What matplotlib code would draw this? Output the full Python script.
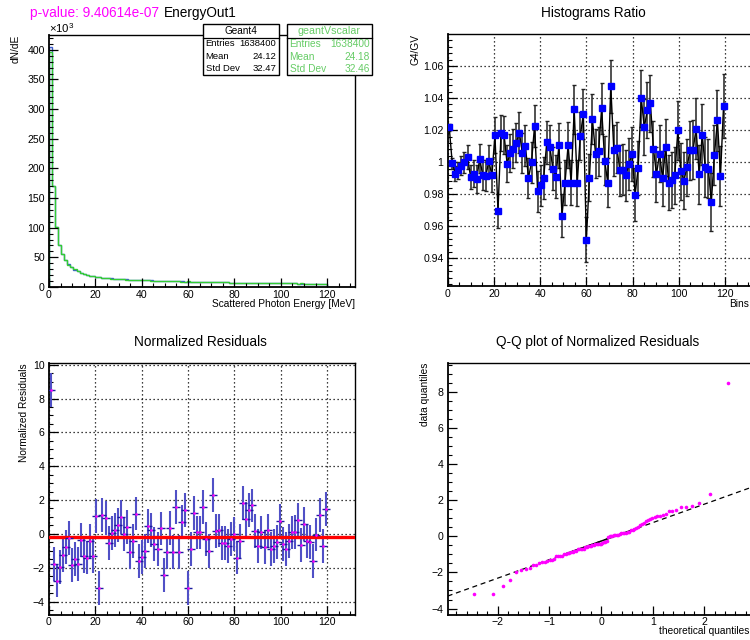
import statistics
import numpy as np
import matplotlib
matplotlib.use("Agg")
import matplotlib.pyplot as plt
from matplotlib.ticker import MultipleLocator, FormatStrFormatter
from matplotlib.patches import Rectangle
from matplotlib.lines import Line2D

plt.rcParams["font.family"] = ["Liberation Sans", "DejaVu Sans"]
plt.rcParams["mathtext.fontset"] = "custom"
plt.rcParams["mathtext.rm"] = "Liberation Sans"
plt.rcParams["axes.unicode_minus"] = True

# ----------------------------------------------------------
# Data
# ----------------------------------------------------------
energy_range = (0, 120)

# Geant4 histogram, counts per bin in units of 10^3
g4_counts = [
    405, 171, 101, 71, 55, 45, 38, 33, 29.5, 26.5, 24, 22, 20.5, 19.2, 18.2,
    17.3, 16.6, 16.0, 15.4, 14.9, 14.4, 14.0, 13.6, 13.3, 13.0, 12.7, 12.4, 12.2, 12.0, 11.8,
    11.6, 11.4, 11.2, 11.0, 10.8, 10.6, 10.4, 10.2, 10.0, 9.9, 9.7, 9.6, 9.4, 9.3, 9.1,
    9.0, 8.9, 8.8, 8.7, 8.6, 8.5, 8.4, 8.3, 8.2, 8.1, 8.0, 7.9, 7.8, 7.7, 7.5,
    7.3, 7.2, 7.1, 7.0, 6.9, 6.9, 6.8, 6.7, 6.7, 6.6, 6.5, 6.5, 6.4, 6.3, 6.3,
    6.2, 6.2, 6.1, 6.1, 6.0, 6.0, 5.9, 5.9, 5.8, 5.8, 5.8, 5.7, 5.7, 5.7, 5.6, 5.6,
]

# G4 / GV ratio per bin
ratio = [
    1.0217, 0.9992, 0.9929, 0.9950, 0.9977, 0.9998, 1.0033, 0.9908, 0.9929, 0.9896,
    1.0021, 0.9919, 0.9915, 1.0006, 0.9917, 1.0169, 0.9696, 1.0183, 1.0169, 0.9990,
    1.0058, 1.0085, 1.0121, 1.0185, 1.0056, 1.0102, 0.9900, 1.0000, 1.0227, 0.9819,
    0.9856, 0.9904, 1.0123, 1.0096, 0.9960, 0.9910, 1.0106, 0.9667, 0.9873, 1.0106,
    0.9873, 1.0329, 0.9869, 1.0165, 1.0300, 0.9517, 0.9904, 1.0267, 1.0052, 1.0067,
    1.0337, 1.0010, 0.9873, 1.0475, 1.0075, 1.0090, 0.9948, 0.9954, 0.9919, 0.9990,
    1.0052, 0.9798, 0.9965, 1.0400, 1.0217, 1.0325, 1.0367, 1.0085, 0.9923, 1.0054,
    0.9898, 1.0092, 0.9873, 0.9888, 0.9917, 1.0198, 0.9942, 0.9885, 0.9967, 1.0073,
    1.0077, 1.0210, 0.9923, 1.0171, 0.9969, 0.9958, 0.9752, 1.0044, 1.0260, 0.9915,
    1.0350,
]

# normalized residuals per bin
residuals = [
    8.48, -1.76, -2.76, -1.96, -1.24, -0.80, -0.24, -1.86, -1.50, -1.80,
    -0.36, -1.30, -1.40, -0.40, -1.30, 1.04, -3.20, 1.12, 0.96, -0.52,
    0.04, 0.24, 0.52, 1.00, 0.00, 0.40, -1.10, -0.40, 1.20, -1.60,
    -1.36, -1.00, 0.44, 0.24, -0.60, -0.92, 0.32, -2.44, -1.10, 0.34,
    -1.08, 1.60, -1.08, 0.68, 1.40, -3.20, -0.88, 1.24, 0.08, 0.08,
    1.60, -0.32, -1.00, 2.32, 0.16, 0.20, -0.56, -0.52, -0.72, -0.32,
    0.00, -1.40, -0.44, 1.84, 0.88, 1.40, 1.68, 0.16, -0.72, 0.08,
    -0.80, 0.20, -0.92, -0.72, -0.50, 0.76, -0.60, -0.88, -0.40, 0.08,
    0.12, 0.84, -0.68, 0.60, -0.44, -0.48, -1.60, -0.04, 1.12, -0.72,
    1.48,
]
resid_err = 1.0
resid_mean = -0.18

title_pvalue = "p-value: 9.40614e-07"
title_hist = "EnergyOut1"
stats_g4 = [("Entries", "1638400"), ("Mean", "24.12"), ("Std Dev", "32.47")]
stats_gv = [("Entries", "1638400"), ("Mean", "24.18"), ("Std Dev", "32.46")]

# derived quantities
g4 = np.array(g4_counts)
r = np.array(ratio)
gv = g4 / r
edges = np.linspace(energy_range[0], energy_range[1], len(g4) + 1)
centers = 0.5 * (edges[:-1] + edges[1:])
# statistical error of the ratio from the bin contents
r_err = r * np.sqrt(1.0 / (g4 * 1e3) + 1.0 / (gv * 1e3))

# Q-Q points
res_sorted = np.sort(residuals)
n = len(res_sorted)
nd = statistics.NormalDist()
theo_q = np.array([nd.inv_cdf((i + 1 - 0.375) / (n + 0.25)) for i in range(n)])
yq1, yq3 = np.percentile(residuals, [25, 75])
xq1, xq3 = nd.inv_cdf(0.25), nd.inv_cdf(0.75)
qq_slope = (yq3 - yq1) / (xq3 - xq1)
qq_icpt = yq1 - qq_slope * xq1

# ----------------------------------------------------------
# Figure
# ----------------------------------------------------------
W, H = 750, 640
fig = plt.figure(figsize=(7.5, 6.4), dpi=100)
TICK_FS = 7.6
LAB_FS = 7.3


def px_axes(left, top, right, bottom):
    return fig.add_axes([left / W, 1 - bottom / H, (right - left) / W, (bottom - top) / H])


def root_style(ax, xmaj, xmin, ymaj, ymin, grid=False):
    ax.xaxis.set_major_locator(MultipleLocator(xmaj))
    ax.xaxis.set_minor_locator(MultipleLocator(xmin))
    ax.yaxis.set_major_locator(MultipleLocator(ymaj))
    ax.yaxis.set_minor_locator(MultipleLocator(ymin))
    ax.tick_params(which="both", direction="in", top=False, right=False,
                   labelsize=TICK_FS, colors="black")
    ax.tick_params(which="major", length=6.2, width=0.9)
    ax.tick_params(which="minor", length=3.1, width=0.8)
    ax.tick_params(axis="x", pad=2.0)
    ax.tick_params(axis="y", pad=3.0)
    for s in ax.spines.values():
        s.set_linewidth(1.0)
    ax.spines["left"].set_linewidth(1.3)
    ax.spines["bottom"].set_linewidth(1.3)
    if grid:
        ax.grid(True, which="major", color="black", ls=(0, (1, 2.2)), lw=0.9)
        ax.set_axisbelow(True)


# ---------------- top-left: histograms ----------------
ax1 = px_axes(49, 35, 355, 287)
ax1.stairs(g4, edges, baseline=0, color="#3d5ccc", lw=1.0)
ax1.stairs(gv, edges, baseline=0, color="#33cc33", lw=1.0)
ax1.set_xlim(0, 132)
ax1.set_ylim(0, 425)
root_style(ax1, 20, 5, 50, 10)
ax1.text(-0.108, 1.0, "dN/dE", rotation=90, ha="center", va="top",
         transform=ax1.transAxes, fontsize=LAB_FS)
ax1.text(1.0, -0.067, "Scattered Photon Energy [MeV]", ha="right", va="center",
         transform=ax1.transAxes, fontsize=LAB_FS)
ax1.text(0.0, 1.0, r"$\times$10$^{3}$", ha="left", va="bottom",
         transform=ax1.transAxes, fontsize=8.2)

fig.text(30 / W, 1 - 13 / H, title_pvalue, color="#ff00ff", fontsize=9.8,
         ha="left", va="center")
fig.text(164 / W, 1 - 13 / H, title_hist, color="black", fontsize=9.8,
         ha="left", va="center")


def stats_box(x0, x1, header, rows, color, fs):
    y0, ysep, y1 = 24, 37.5, 74.7
    fig.add_artist(Rectangle((x0 / W, 1 - y1 / H), (x1 - x0) / W, (y1 - y0) / H,
                             transform=fig.transFigure, fc="white", ec="black",
                             lw=1.0, zorder=5))
    fig.add_artist(Line2D([x0 / W, x1 / W], [1 - ysep / H] * 2, color="black",
                          lw=0.9, transform=fig.transFigure, zorder=6))
    fig.text((x0 + x1) / 2 / W, 1 - 30.8 / H, header, color=color, fontsize=fs,
             ha="center", va="center", zorder=7)
    for (lab, val), yy in zip(rows, [44.0, 56.5, 68.8]):
        fig.text((x0 + 2.5) / W, 1 - yy / H, lab, color=color, fontsize=fs - 0.4,
                 ha="left", va="center", zorder=7)
        fig.text((x1 - 2.5) / W, 1 - yy / H, val, color=color, fontsize=fs - 0.4,
                 ha="right", va="center", zorder=7)


stats_box(203, 279, "Geant4", stats_g4, "black", 7.2)
stats_box(287, 372, "geantVscalar", stats_gv, "#66cc66", 7.7)

# ---------------- top-right: ratio ----------------
ax2 = px_axes(447.7, 34.3, 752.8, 286)
ax2.errorbar(centers, r, yerr=r_err, fmt="none", ecolor="#222222",
             elinewidth=1.1, capsize=1.7, capthick=1.0, zorder=2)
ax2.plot(centers, r, color="black", lw=1.0, zorder=3)
ax2.plot(centers, r, "s", color="#0000ff", ms=3.8, mec="#0000ff", zorder=4)
ax2.set_xlim(0, 132)
ax2.set_ylim(0.9227, 1.0798)
root_style(ax2, 20, 5, 0.02, 0.004, grid=True)
ax2.yaxis.set_major_formatter(FormatStrFormatter("%g"))
ax2.text(-0.104, 1.0, "G4/GV", rotation=90, ha="center", va="top",
         transform=ax2.transAxes, fontsize=LAB_FS)
fig.text(749 / W, 1 - 304 / H, "Bins", ha="right", va="center", fontsize=LAB_FS)
fig.text(593 / W, 1 - 13 / H, "Histograms Ratio", fontsize=9.8,
         ha="center", va="center")

# ---------------- bottom-left: residuals ----------------
ax3 = px_axes(49, 363, 355, 614.7)
ax3.errorbar(centers, residuals, yerr=resid_err, fmt="none", ecolor="#5050c6",
             elinewidth=1.5, zorder=2)
ax3.axhline(resid_mean, color="#ff0000", lw=2.4, zorder=3)
ax3.plot(centers, residuals, "_", color="#1c1ca0", ms=5.6, mew=1.0, zorder=4)
ax3.plot(centers, residuals, "o", color="#ff00ff", ms=1.9, mew=0, zorder=5)
ax3.set_xlim(0, 132)
ax3.set_ylim(-4.78, 10.1)
root_style(ax3, 20, 5, 2, 0.5, grid=True)
ax3.text(-0.083, 1.0, "Normalized Residuals", rotation=90, ha="center", va="top",
         transform=ax3.transAxes, fontsize=LAB_FS)
fig.text(200 / W, 1 - 342.5 / H, "Normalized Residuals", fontsize=9.8,
         ha="center", va="center")

# ---------------- bottom-right: Q-Q ----------------
ax4 = px_axes(447.7, 363, 752.8, 614.7)
qx_lo, qx_hi = -2.97, 2.94
ax4.plot([qx_lo, qx_hi], [qq_icpt + qq_slope * qx_lo, qq_icpt + qq_slope * qx_hi],
         color="black", lw=0.9, ls=(0, (4, 3)), zorder=2)
ax4.plot([xq1, xq3], [yq1, yq3], color="black", lw=1.1, zorder=2)
ax4.plot(theo_q, res_sorted, "o", color="#ff00ff", ms=2.6, mew=0, zorder=3)
ax4.set_xlim(qx_lo, qx_hi)
ax4.set_ylim(-4.34, 9.59)
root_style(ax4, 1, 0.2, 2, 0.5)
ax4.text(-0.074, 1.0, "data quantiles", rotation=90, ha="center", va="top",
         transform=ax4.transAxes, fontsize=LAB_FS)
fig.text(749 / W, 1 - 631 / H, "theoretical quantiles", ha="right", va="center",
         fontsize=LAB_FS)
fig.text(598 / W, 1 - 342 / H, "Q-Q plot of Normalized Residuals", fontsize=9.8,
         ha="center", va="center")

fig.savefig("out.png", dpi=100)
